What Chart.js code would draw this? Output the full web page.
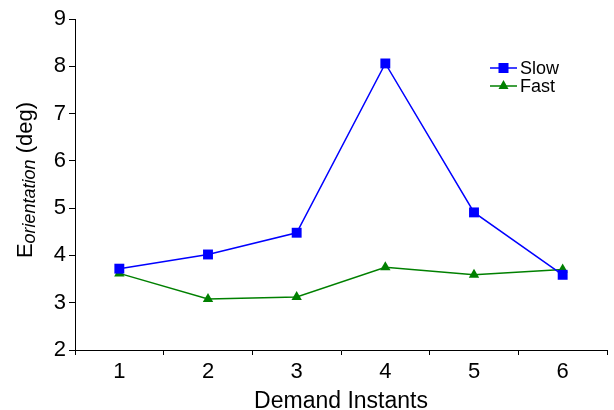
<!DOCTYPE html>
<html>
<head>
<meta charset="utf-8">
<script src="https://cdn.jsdelivr.net/npm/chart.js@4"></script>
<style>
  html, body { margin: 0; padding: 0; background: #fff; }
  #wrap { width: 614px; height: 410px; position: relative; }
</style>
</head>
<body>
<div id="wrap"><canvas id="chart"></canvas></div>
<script>
// data
var categories = ['1', '2', '3', '4', '5', '6'];
var slowValues = [3.72, 4.02, 4.48, 8.06, 4.91, 3.59];
var fastValues = [3.62, 3.08, 3.12, 3.75, 3.59, 3.70];
var yTicks = [2, 3, 4, 5, 6, 7, 8, 9];

var FONT = '"Liberation Sans", Arial, Helvetica, sans-serif';

// axis titles + legend with line-and-marker swatches
var decorPlugin = {
    id: 'decor',
    afterDraw: function (chart) {
        var ctx = chart.ctx;
        var area = chart.chartArea;
        ctx.save();
        ctx.fillStyle = '#000';

        // x title
        ctx.font = '23px ' + FONT;
        ctx.textAlign = 'center';
        ctx.textBaseline = 'alphabetic';
        ctx.fillText('Demand Instants', (area.left + area.right) / 2, 408);

        // y title: E with italic subscript, then (deg)
        ctx.save();
        ctx.translate(32, 180);
        ctx.rotate(-Math.PI / 2);
        var mainFont = '22px ' + FONT;
        var subFont = 'italic 18px ' + FONT;
        ctx.font = mainFont;
        var wE = ctx.measureText('E').width;
        var wDeg = ctx.measureText(' (deg)').width;
        ctx.font = subFont;
        var wSub = ctx.measureText('orientation').width;
        var x0 = -(wE + wSub + wDeg) / 2;
        ctx.textAlign = 'left';
        ctx.font = mainFont;
        ctx.fillText('E', x0, 0);
        ctx.font = subFont;
        ctx.fillText('orientation', x0 + wE, 3);
        ctx.font = mainFont;
        ctx.fillText(' (deg)', x0 + wE + wSub, 0);
        ctx.restore();

        // legend
        var items = [
            { label: 'Slow', color: '#0000ff', style: 'rect' },
            { label: 'Fast', color: '#008000', style: 'triangle' }
        ];
        var lx = 490;
        var ly = 68;
        ctx.font = '18px ' + FONT;
        ctx.textAlign = 'left';
        ctx.textBaseline = 'middle';
        items.forEach(function (it, i) {
            var y = ly + i * 18;
            ctx.strokeStyle = it.color;
            ctx.lineWidth = 1.5;
            ctx.beginPath();
            ctx.moveTo(lx, y);
            ctx.lineTo(lx + 27, y);
            ctx.stroke();
            ctx.fillStyle = it.color;
            var cx = lx + 13.5;
            if (it.style === 'rect') {
                ctx.fillRect(cx - 5, y - 5, 10, 10);
            } else {
                ctx.beginPath();
                ctx.moveTo(cx, y - 6);
                ctx.lineTo(cx + 5, y + 3);
                ctx.lineTo(cx - 5, y + 3);
                ctx.closePath();
                ctx.fill();
            }
            ctx.fillStyle = '#000';
            ctx.fillText(it.label, lx + 30, y + 1);
        });
        ctx.restore();
    }
};

new Chart(document.getElementById('chart'), {
    type: 'line',
    data: {
        labels: categories,
        datasets: [
            {
                label: 'Slow',
                data: slowValues,
                borderColor: '#0000ff',
                backgroundColor: '#0000ff',
                borderWidth: 1.5,
                pointStyle: 'rect',
                pointRadius: 7,
                pointBorderWidth: 0,
                tension: 0
            },
            {
                label: 'Fast',
                data: fastValues,
                borderColor: '#008000',
                backgroundColor: '#008000',
                borderWidth: 1.5,
                pointStyle: 'triangle',
                pointRadius: 6,
                pointBorderWidth: 0,
                tension: 0
            }
        ]
    },
    options: {
        responsive: true,
        maintainAspectRatio: false,
        animation: false,
        layout: { padding: { left: 0, right: 0, top: 19, bottom: 0 } },
        plugins: {
            legend: { display: false },
            tooltip: { enabled: false }
        },
        scales: {
            x: {
                offset: true,
                grid: { offset: true, drawOnChartArea: false, drawTicks: true, tickLength: 5, color: '#000' },
                border: { color: '#000', width: 1 },
                ticks: { color: '#000', font: { family: FONT, size: 22 }, padding: 4, maxRotation: 0 },
                afterFit: function (s) {
                    s.height = 60;
                    s.paddingLeft = 0;
                    s.paddingRight = 0;
                }
            },
            y: {
                min: yTicks[0],
                max: yTicks[yTicks.length - 1],
                afterBuildTicks: function (s) {
                    s.ticks = yTicks.map(function (v) { return { value: v }; });
                },
                grid: { drawOnChartArea: false, drawTicks: true, tickLength: 6, color: '#000' },
                border: { color: '#000', width: 1 },
                ticks: { color: '#000', font: { family: FONT, size: 22 }, padding: 3 },
                afterFit: function (s) {
                    s.width = 75;
                    s.paddingTop = 0;
                    s.paddingBottom = 0;
                }
            }
        }
    },
    plugins: [decorPlugin]
});
</script>
</body>
</html>
